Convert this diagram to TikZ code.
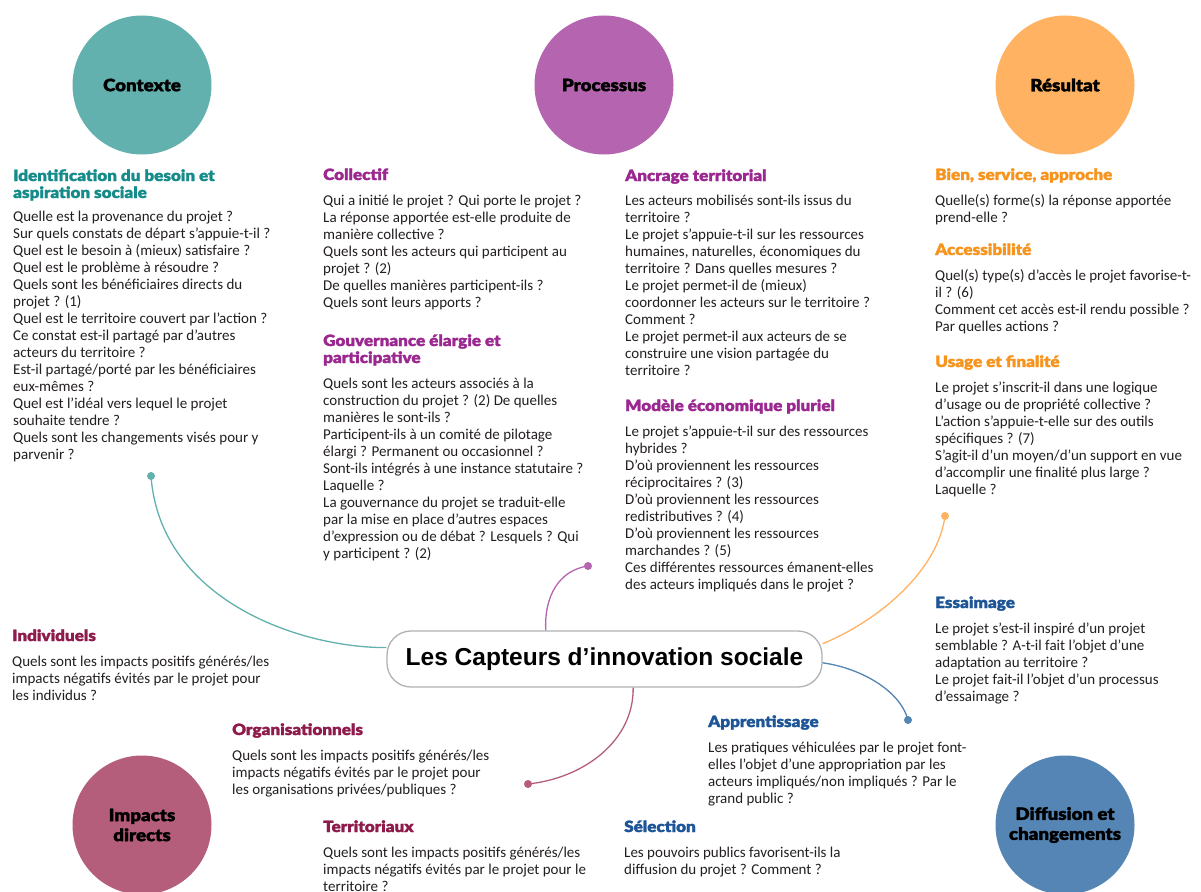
\documentclass[tikz,border=0pt]{standalone}
\usepackage{fontspec}
\setmainfont{Carlito}
\newfontfamily\heavyfont{Lato Black}[FakeBold=1.6,FakeStretch=1.1]
\newfontfamily\titlefamily{Liberation Sans}
\definecolor{cTeal}{HTML}{62B1AE}
\definecolor{cPurple}{HTML}{B565B0}
\definecolor{cOrange}{HTML}{FFB362}
\definecolor{cMagenta}{HTML}{B55E7C}
\definecolor{cBlue}{HTML}{5485B4}
\definecolor{hTeal}{HTML}{168C8A}
\definecolor{hPurple}{HTML}{9B2790}
\definecolor{hOrange}{HTML}{F7941E}
\definecolor{hMagenta}{HTML}{8E1B4C}
\definecolor{hBlue}{HTML}{1D5597}
\definecolor{bodytext}{HTML}{231F20}
\newcommand{\blk}[1]{\begin{tabular}[t]{@{}l@{}}#1\end{tabular}}
\tikzset{
  body/.style={anchor=base west, inner sep=0pt, text=bodytext, font=\fontsize{15}{17}\selectfont},
  head/.style={anchor=base west, inner sep=0pt, font=\heavyfont\fontsize{15.5}{17}\selectfont},
  bigcirc/.style={circle, minimum size=139pt, inner sep=0pt, align=center, text=black,
    font=\heavyfont\fontsize{17}{20}\selectfont},
  link/.style={line width=1.3pt},
}
\begin{document}
\begin{tikzpicture}[x=1pt,y=-1pt]
\useasboundingbox (0,0) rectangle (1201,891);
\fill[white] (0,0) rectangle (1201,891);

% circles
\node[bigcirc, fill=cTeal] (ctx) at (142,85) {Contexte};
\node[bigcirc, fill=cPurple] (proc) at (604,85) {Processus};
\node[bigcirc, fill=cOrange] (res) at (1065,85) {Résultat};
\node[bigcirc, fill=cMagenta] (imp) at (142,825) {Impacts\\directs};
\node[bigcirc, fill=cBlue] (diff) at (1065,825) {Diffusion et\\changements};

% central title
\node[draw=black!30, line width=1.3pt, rounded corners=24pt, fill=white,
  minimum width=435pt, minimum height=56pt, inner sep=0pt,
  font=\titlefamily\bfseries\fontsize{24.5}{28}\selectfont] (title) at (604.5,659) {Les Capteurs d’innovation sociale};

% dots
\coordinate (dC) at (151,476);
\coordinate (dP) at (588,566);
\coordinate (dM) at (528,784);
\coordinate (dO) at (945,516);
\coordinate (dB) at (908,720);

\draw[link, cTeal] (title.177) .. controls (300,648) and (160,600) .. (dC);
\fill[cTeal] (dC) circle (4);
\draw[link, cPurple] (title.154) .. controls (544,595) and (560,570) .. (dP);
\fill[cPurple] (dP) circle (4);
\draw[link, cMagenta] (title.-45) .. controls (634,740) and (585,778) .. (dM);
\fill[cMagenta] (dM) circle (4);
\draw[link, cOrange] (title.4.7) .. controls (880,620) and (938,570) .. (dO);
\fill[cOrange] (dO) circle (4);
\draw[link, cBlue] (title.-1) .. controls (860,668) and (900,690) .. (dB);
\fill[cBlue] (dB) circle (4);

% Contexte
\node[head, text=hTeal] (hC) at (13,181) {\blk{Identification du besoin et\\aspiration sociale}};
\node[body] (bC) at (13,221) {\blk{Quelle est la provenance du projet ?\\
Sur quels constats de départ s'appuie-t-il ?\\
Quel est le besoin à (mieux) satisfaire ?\\
Quel est le problème à résoudre ?\\
Quels sont les bénéficiaires directs du\\
projet ? (1)\\
Quel est le territoire couvert par l'action ?\\
Ce constat est-il partagé par d'autres\\
acteurs du territoire ?\\
Est-il partagé/porté par les bénéficiaires\\
eux-mêmes ?\\
Quel est l'idéal vers lequel le projet\\
souhaite tendre ?\\
Quels sont les changements visés pour y\\
parvenir ?}};

% Processus
\node[head, text=hPurple] (hP1) at (323,180) {Collectif};
\node[body] (bP1) at (323,205) {\blk{Qui a initié le projet ? Qui porte le projet ?\\
La réponse apportée est-elle produite de\\
manière collective ?\\
Quels sont les acteurs qui participent au\\
projet ? (2)\\
De quelles manières participent-ils ?\\
Quels sont leurs apports ?}};
\node[head, text=hPurple] (hP2) at (323,346) {\blk{Gouvernance élargie et\\participative}};
\node[body] (bP2) at (323,388) {\blk{Quels sont les acteurs associés à la\\
construction du projet ? (2) De quelles\\
manières le sont-ils ?\\
Participent-ils à un comité de pilotage\\
élargi ? Permanent ou occasionnel ?\\
Sont-ils intégrés à une instance statutaire ?\\
Laquelle ?\\
La gouvernance du projet se traduit-elle\\
par la mise en place d'autres espaces\\
d'expression ou de débat ? Lesquels ? Qui\\
y participent ? (2)}};
\node[head, text=hPurple] (hP3) at (625,181) {Ancrage territorial};
\node[body] (bP3) at (625,205) {\blk{Les acteurs mobilisés sont-ils issus du\\
territoire ?\\
Le projet s'appuie-t-il sur les ressources\\
humaines, naturelles, économiques du\\
territoire ? Dans quelles mesures ?\\
Le projet permet-il de (mieux)\\
coordonner les acteurs sur le territoire ?\\
Comment ?\\
Le projet permet-il aux acteurs de se\\
construire une vision partagée du\\
territoire ?}};
\node[head, text=hPurple] (hP4) at (625,411) {Modèle économique pluriel};
\node[body] (bP4) at (625,436) {\blk{Le projet s'appuie-t-il sur des ressources\\
hybrides ?\\
D'où proviennent les ressources\\
réciprocitaires ? (3)\\
D'où proviennent les ressources\\
redistributives ? (4)\\
D'où proviennent les ressources\\
marchandes ? (5)\\
Ces différentes ressources émanent-elles\\
des acteurs impliqués dans le projet ?}};

% Resultat
\node[head, text=hOrange] (hR1) at (935,180) {Bien, service, approche};
\node[body] (bR1) at (935,205) {\blk{Quelle(s) forme(s) la réponse apportée\\
prend-elle ?}};
\node[head, text=hOrange] (hR2) at (935,255) {Accessibilité};
\node[body] (bR2) at (935,280) {\blk{Quel(s) type(s) d'accès le projet favorise-t-\\
il ? (6)\\
Comment cet accès est-il rendu possible ?\\
Par quelles actions ?}};
\node[head, text=hOrange] (hR3) at (935,367) {Usage et finalité};
\node[body] (bR3) at (935,392) {\blk{Le projet s'inscrit-il dans une logique\\
d'usage ou de propriété collective ?\\
L'action s'appuie-t-elle sur des outils\\
spécifiques ? (7)\\
S'agit-il d'un moyen/d'un support en vue\\
d'accomplir une finalité plus large ?\\
Laquelle ?}};

% Diffusion
\node[head, text=hBlue] (hD1) at (935,608) {Essaimage};
\node[body] (bD1) at (935,633) {\blk{Le projet s'est-il inspiré d'un projet\\
semblable ? A-t-il fait l'objet d'une\\
adaptation au territoire ?\\
Le projet fait-il l'objet d'un processus\\
d'essaimage ?}};
\node[head, text=hBlue] (hD2) at (708,727) {Apprentissage};
\node[body] (bD2) at (708,752) {\blk{Les pratiques véhiculées par le projet font-\\
elles l'objet d'une appropriation par les\\
acteurs impliqués/non impliqués ? Par le\\
grand public ?}};
\node[head, text=hBlue] (hD3) at (624,832) {Sélection};
\node[body] (bD3) at (624,857) {\blk{Les pouvoirs publics favorisent-ils la\\
diffusion du projet ? Comment ?}};

% Impacts
\node[head, text=hMagenta] (hI1) at (12,641) {Individuels};
\node[body] (bI1) at (12,666) {\blk{Quels sont les impacts positifs générés/les\\
impacts négatifs évités par le projet pour\\
les individus ?}};
\node[head, text=hMagenta] (hI2) at (232,735) {Organisationnels};
\node[body] (bI2) at (232,760) {\blk{Quels sont les impacts positifs générés/les\\
impacts négatifs évités par le projet pour\\
les organisations privées/publiques ?}};
\node[head, text=hMagenta] (hI3) at (323,832) {Territoriaux};
\node[body] (bI3) at (323,857) {\blk{Quels sont les impacts positifs générés/les\\
impacts négatifs évités par le projet pour le\\
territoire ?}};
\end{tikzpicture}
\end{document}
